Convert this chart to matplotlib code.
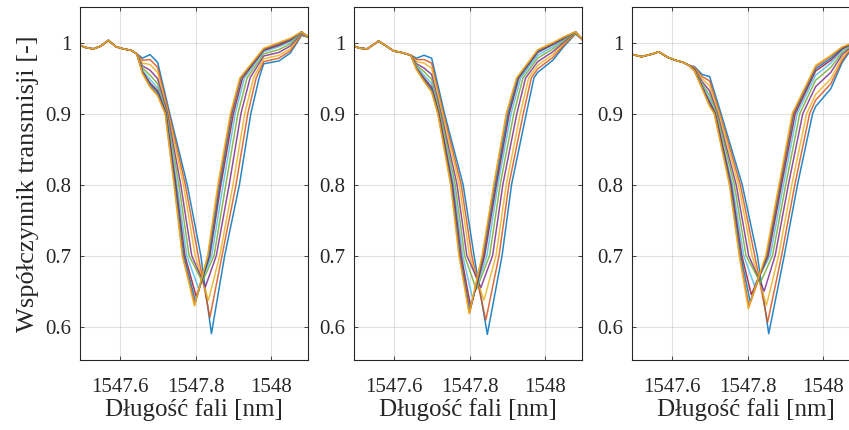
import matplotlib
matplotlib.use("Agg")
import matplotlib.pyplot as plt

plt.rcParams['font.family'] = ['Liberation Serif', 'DejaVu Serif']

# MATLAB default colour order, 10 spectra per panel
COLORS = ['#0072BD', '#D95319', '#EDB120', '#7E2F8E', '#77AC30',
          '#4DBEEE', '#A2142F', '#0072BD', '#D95319', '#EDB120']

X_TICKS = [1547.6, 1547.8, 1548.0]
X_TICK_LABELS = ['1547.6', '1547.8', '1548']
Y_TICKS = [0.6, 0.7, 0.8, 0.9, 1.0]
Y_TICK_LABELS = ['0.6', '0.7', '0.8', '0.9', '1']

# shared x of the shelf points, y levels of the flank points, x of shoulder points
SHELF_X = [1547.66, 1547.68, 1547.70]
LEFT_LEVELS = [0.9, 0.8, 0.7]
RIGHT_LEVELS = [[0.7, 0.8, 0.9, 0.95], [0.7, 0.8, 0.9, 0.95], [0.7, 0.8, 0.9]]
SHOULDER_X = [1547.98, 1548.02, 1548.05, 1548.08]
END_X = 1548.10
END_Y = [1.007, 1.003, 1.0]

# common left baseline of each panel
LEFT_X = [
    [1547.49, 1547.51, 1547.53, 1547.55, 1547.57, 1547.59, 1547.61, 1547.63, 1547.645],
    [1547.49, 1547.51, 1547.53, 1547.56, 1547.58, 1547.60, 1547.62, 1547.645],
    [1547.49, 1547.52, 1547.55, 1547.565, 1547.59, 1547.61, 1547.63, 1547.645],
]
LEFT_Y = [
    [0.997, 0.993, 0.991, 0.995, 1.003, 0.994, 0.991, 0.989, 0.984],
    [0.996, 0.992, 0.991, 1.002, 0.995, 0.988, 0.986, 0.982],
    [0.984, 0.980, 0.984, 0.987, 0.979, 0.975, 0.972, 0.968],
]

# ---- panel 1 ----
P1_SHELF = [
    [0.978, 0.975, 0.971, 0.967, 0.964, 0.961, 0.959, 0.958, 0.957, 0.956],
    [0.983, 0.976, 0.969, 0.961, 0.954, 0.948, 0.943, 0.941, 0.938, 0.937],
    [0.972, 0.965, 0.958, 0.949, 0.942, 0.936, 0.932, 0.929, 0.926, 0.925],
]
P1_LEFT_FLANK = [
    [1547.732, 1547.730, 1547.728, 1547.726, 1547.724, 1547.723, 1547.722, 1547.721, 1547.720, 1547.720],
    [1547.778, 1547.773, 1547.768, 1547.761, 1547.756, 1547.751, 1547.748, 1547.746, 1547.744, 1547.743],
    [1547.814, 1547.807, 1547.799, 1547.790, 1547.783, 1547.777, 1547.772, 1547.769, 1547.766, 1547.765],
]
P1_MIN_X = [1547.842, 1547.838, 1547.834, 1547.826, 1547.818, 1547.808, 1547.802, 1547.800, 1547.798, 1547.797]
P1_MIN_Y = [0.590, 0.613, 0.637, 0.656, 0.663, 0.654, 0.642, 0.635, 0.631, 0.629]
P1_RIGHT_FLANK = [
    [1547.877, 1547.870, 1547.864, 1547.855, 1547.849, 1547.843, 1547.838, 1547.836, 1547.833, 1547.832],
    [1547.916, 1547.907, 1547.899, 1547.889, 1547.880, 1547.873, 1547.867, 1547.864, 1547.861, 1547.859],
    [1547.946, 1547.938, 1547.930, 1547.920, 1547.912, 1547.905, 1547.900, 1547.896, 1547.894, 1547.892],
    [1547.968, 1547.960, 1547.953, 1547.944, 1547.936, 1547.929, 1547.924, 1547.920, 1547.918, 1547.917],
]
P1_SHOULDER = [
    [0.970, 0.973, 0.977, 0.981, 0.984, 0.987, 0.989, 0.990, 0.991, 0.992],
    [0.974, 0.978, 0.982, 0.986, 0.990, 0.994, 0.996, 0.998, 0.999, 1.000],
    [0.985, 0.988, 0.991, 0.995, 0.998, 1.001, 1.003, 1.004, 1.005, 1.006],
    [1.010, 1.011, 1.012, 1.013, 1.014, 1.014, 1.015, 1.015, 1.015, 1.015],
]

# ---- panel 2 ----
P2_SHELF = [
    [0.978, 0.976, 0.973, 0.970, 0.968, 0.966, 0.964, 0.963, 0.962, 0.962],
    [0.982, 0.976, 0.971, 0.964, 0.959, 0.954, 0.950, 0.948, 0.946, 0.945],
    [0.978, 0.971, 0.964, 0.955, 0.948, 0.942, 0.937, 0.934, 0.931, 0.930],
]
P2_LEFT_FLANK = [
    [1547.734, 1547.731, 1547.729, 1547.725, 1547.723, 1547.720, 1547.719, 1547.717, 1547.717, 1547.716],
    [1547.783, 1547.778, 1547.773, 1547.767, 1547.762, 1547.758, 1547.755, 1547.753, 1547.751, 1547.750],
    [1547.812, 1547.806, 1547.800, 1547.793, 1547.787, 1547.782, 1547.778, 1547.775, 1547.773, 1547.772],
]
P2_MIN_X = [1547.847, 1547.843, 1547.838, 1547.830, 1547.818, 1547.808, 1547.803, 1547.801, 1547.800, 1547.799]
P2_MIN_Y = [0.589, 0.609, 0.637, 0.655, 0.652, 0.640, 0.628, 0.622, 0.619, 0.618]
P2_RIGHT_FLANK = [
    [1547.886, 1547.878, 1547.870, 1547.861, 1547.853, 1547.846, 1547.840, 1547.837, 1547.835, 1547.833],
    [1547.911, 1547.904, 1547.897, 1547.888, 1547.881, 1547.875, 1547.871, 1547.868, 1547.865, 1547.864],
    [1547.950, 1547.942, 1547.934, 1547.925, 1547.917, 1547.910, 1547.905, 1547.902, 1547.898, 1547.897],
    [1547.970, 1547.963, 1547.956, 1547.948, 1547.941, 1547.935, 1547.930, 1547.928, 1547.925, 1547.924],
]
P2_SHOULDER = [
    [0.958, 0.963, 0.968, 0.973, 0.978, 0.982, 0.986, 0.987, 0.989, 0.990],
    [0.975, 0.979, 0.983, 0.987, 0.991, 0.994, 0.997, 0.998, 0.999, 1.000],
    [0.995, 0.997, 0.999, 1.001, 1.003, 1.005, 1.006, 1.007, 1.008, 1.008],
    [1.012, 1.013, 1.013, 1.014, 1.014, 1.015, 1.015, 1.015, 1.015, 1.015],
]

# ---- panel 3 ----
P3_SHELF = [
    [0.966, 0.965, 0.964, 0.963, 0.962, 0.961, 0.961, 0.960, 0.960, 0.960],
    [0.955, 0.952, 0.949, 0.945, 0.942, 0.940, 0.938, 0.937, 0.936, 0.935],
    [0.952, 0.946, 0.939, 0.932, 0.926, 0.920, 0.916, 0.913, 0.911, 0.910],
]
P3_LEFT_FLANK = [
    [1547.730, 1547.727, 1547.725, 1547.721, 1547.719, 1547.716, 1547.715, 1547.713, 1547.713, 1547.712],
    [1547.786, 1547.781, 1547.776, 1547.770, 1547.765, 1547.760, 1547.757, 1547.755, 1547.753, 1547.752],
    [1547.826, 1547.819, 1547.812, 1547.803, 1547.796, 1547.790, 1547.785, 1547.782, 1547.779, 1547.778],
]
P3_MIN_X = [1547.856, 1547.853, 1547.850, 1547.844, 1547.834, 1547.818, 1547.810, 1547.807, 1547.804, 1547.802]
P3_MIN_Y = [0.590, 0.606, 0.630, 0.650, 0.662, 0.658, 0.645, 0.635, 0.628, 0.625]
P3_RIGHT_FLANK = [
    [1547.897, 1547.890, 1547.882, 1547.873, 1547.866, 1547.860, 1547.855, 1547.852, 1547.850, 1547.848],
    [1547.932, 1547.925, 1547.917, 1547.908, 1547.901, 1547.895, 1547.890, 1547.887, 1547.885, 1547.883],
    [1547.972, 1547.964, 1547.956, 1547.946, 1547.938, 1547.931, 1547.926, 1547.922, 1547.920, 1547.918],
]
P3_SHOULDER = [
    [0.910, 0.919, 0.927, 0.938, 0.947, 0.954, 0.960, 0.963, 0.966, 0.968],
    [0.935, 0.942, 0.949, 0.958, 0.965, 0.971, 0.975, 0.978, 0.981, 0.982],
    [0.972, 0.975, 0.979, 0.983, 0.986, 0.989, 0.991, 0.992, 0.993, 0.994],
    [0.995, 0.996, 0.996, 0.997, 0.998, 0.999, 0.999, 1.000, 1.000, 1.000],
]

PANELS = [
    (P1_SHELF, P1_LEFT_FLANK, P1_MIN_X, P1_MIN_Y, P1_RIGHT_FLANK, P1_SHOULDER),
    (P2_SHELF, P2_LEFT_FLANK, P2_MIN_X, P2_MIN_Y, P2_RIGHT_FLANK, P2_SHOULDER),
    (P3_SHELF, P3_LEFT_FLANK, P3_MIN_X, P3_MIN_Y, P3_RIGHT_FLANK, P3_SHOULDER),
]


def spectrum(p, k):
    shelf, lflank, min_x, min_y, rflank, shoulder = PANELS[p]
    x = list(LEFT_X[p]) + SHELF_X + [r[k] for r in lflank] + [min_x[k]] \
        + [r[k] for r in rflank] + SHOULDER_X + [END_X]
    y = list(LEFT_Y[p]) + [r[k] for r in shelf] + LEFT_LEVELS + [min_y[k]] \
        + RIGHT_LEVELS[p] + [r[k] for r in shoulder] + [END_Y[p]]
    return x, y


fig = plt.figure(figsize=(8.49, 4.30), dpi=100)

lefts = [80, 354, 632]
for p, left in enumerate(lefts):
    ax = fig.add_axes([left / 849, 70 / 430, 228 / 849, 353 / 430])
    for k in range(10):
        x, y = spectrum(p, k)
        ax.plot(x, y, color=COLORS[k], lw=1.1, alpha=0.85)

    ax.set_xlim(1547.495, 1548.097)
    ax.set_ylim(0.553, 1.050)
    ax.set_xticks(X_TICKS)
    ax.set_xticklabels(X_TICK_LABELS)
    ax.set_yticks(Y_TICKS)
    ax.set_yticklabels(Y_TICK_LABELS)
    ax.grid(True, color='#262626', alpha=0.13, lw=0.8)
    ax.tick_params(direction='in', length=3, width=0.6, top=True, right=True,
                   labelsize=15, colors='#262626')
    ax.tick_params(axis='x', pad=13)
    ax.tick_params(axis='y', pad=6)
    for s in ax.spines.values():
        s.set_color('#262626')
        s.set_linewidth(0.8)
    ax.set_xlabel('Długość fali [nm]', fontsize=18, color='#262626', labelpad=1)
    if p == 0:
        ax.set_ylabel('Współczynnik transmisji [-]', fontsize=19,
                      color='#262626', labelpad=5)

fig.savefig('out.png', dpi=100)
